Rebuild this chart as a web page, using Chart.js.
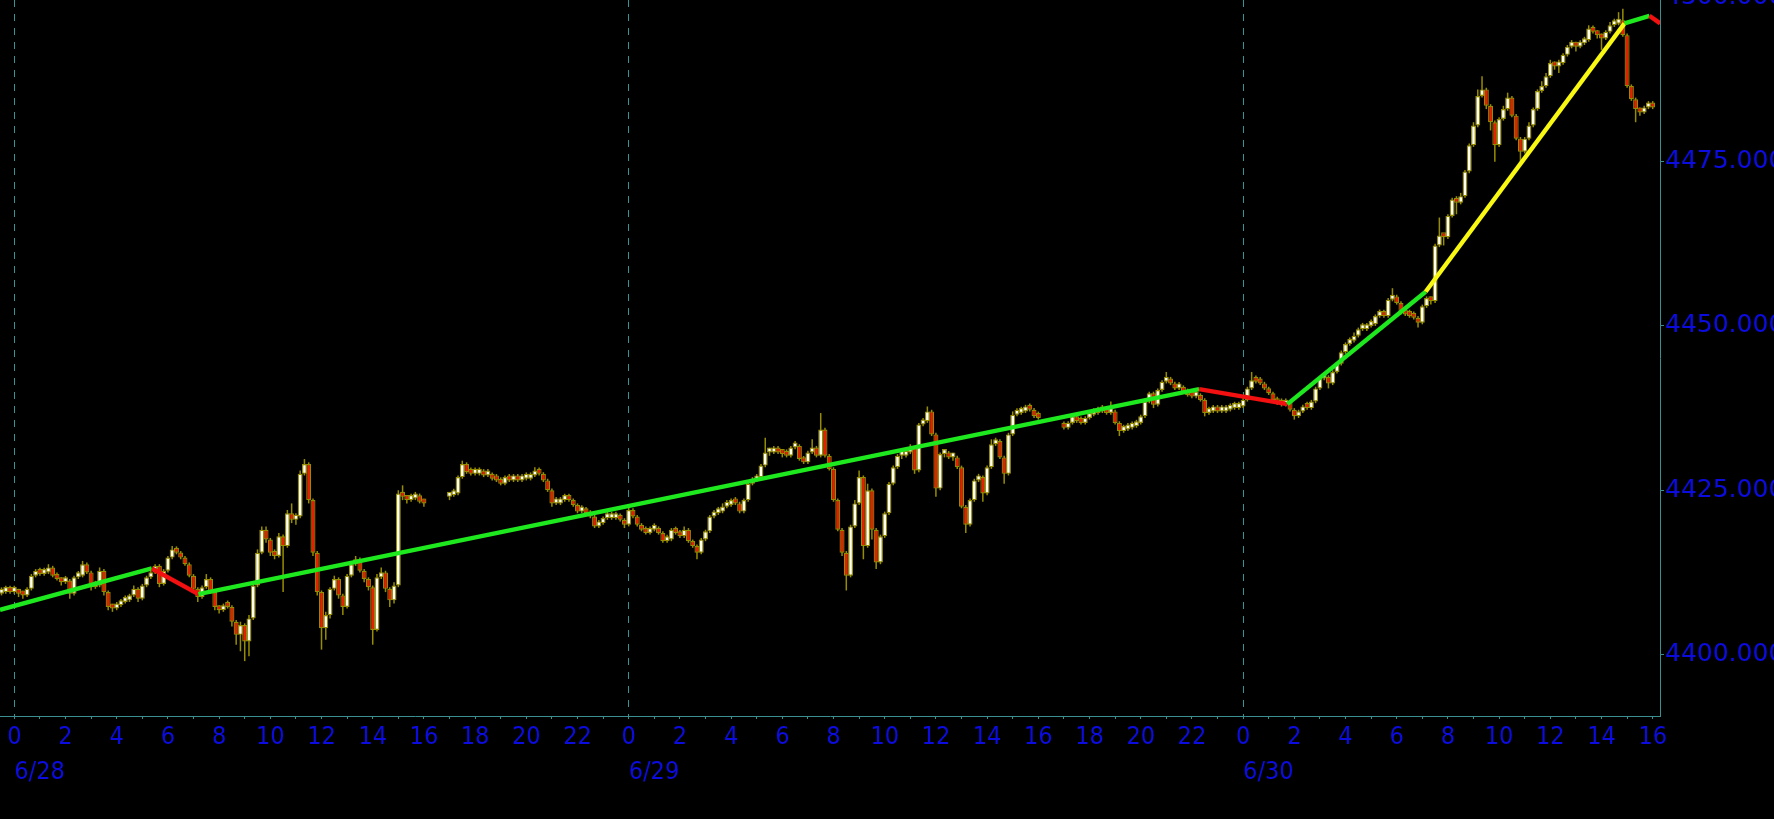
<!DOCTYPE html>
<html>
<head>
<meta charset="utf-8">
<script src="https://cdn.jsdelivr.net/npm/chart.js@4.4.1/dist/chart.umd.min.js"></script>
<style>
html,body{margin:0;padding:0;background:#000;overflow:hidden}
#wrap{position:absolute;left:0;top:0;width:1774px;height:819px;background:#000}
canvas{display:block}
</style>
</head>
<body>
<div id="wrap"><canvas id="c" width="1774" height="819"></canvas></div>
<script>
// ---------------- DATA ----------------
// Hours are counted from 6/28 00:00. 10-minute candles; each candle opens at the previous close.
const barMinutes = 10;
const sessionStartHours = [-0.5, 17, 41];
const sessionOpens = [4409.25, 4424.0, 4435.0];

// Session 1: 6/27 23:30 .. 6/28 16:00
const closesA = [
4409.5,4409.75,4409.5,4409.75,4409.25,4409.0,4410.0,4412.0,4412.5,4412.25,
4412.5,4413.25,4412.0,4411.5,4411.0,4411.25,4409.25,4411.75,4412.0,4413.75,
4412.5,4410.25,4410.5,4412.75,4409.5,4407.25,4407.0,4407.5,4408.0,4408.25,
4409.0,4410.0,4408.5,4410.5,4411.75,4412.5,4413.5,4410.75,4412.75,4414.75,
4416.0,4415.5,4414.75,4413.75,4412.0,4410.0,4408.75,4410.25,4411.5,4409.5,
4407.25,4406.75,4407.5,4407.25,4405.0,4403.0,4404.5,4402.0,4405.5,4410.5,
4415.5,4419.0,4417.5,4415.5,4415.0,4418.0,4416.5,4421.5,4420.5,4421.0,
4427.5,4429.0,4423.5,4415.5,4409.5,4404.0,4406.0,4410.0,4411.5,4409.0,
4407.25,4412.0,4413.75,4414.5,4412.75,4411.5,4410.25,4403.75,4411.75,4412.5,
4410.0,4408.25,4410.5,4424.5,4424.0,4423.5,4423.75,4424.25,4423.25,4423.0];
const highsA = [
4410.0,4410.0,4410.0,4410.25,4410.0,4409.5,4410.25,4412.25,4413.0,4412.75,
4413.0,4413.75,4413.5,4412.25,4411.75,4411.75,4411.5,4412.0,4412.5,4414.25,
4414.0,4412.75,4411.0,4413.25,4413.0,4409.75,4407.5,4408.0,4408.25,4408.75,
4409.25,4410.5,4410.25,4410.75,4412.0,4413.0,4413.75,4413.75,4413.0,4415.0,
4416.5,4416.25,4415.75,4415.0,4414.0,4412.25,4410.25,4410.5,4412.25,4411.75,
4409.75,4407.5,4407.75,4408.0,4407.5,4405.25,4405.0,4404.75,4406.0,4410.75,
4416.0,4419.5,4419.5,4417.75,4416.0,4418.5,4418.25,4422.0,4423.0,4421.5,
4428.0,4429.75,4429.25,4423.75,4415.75,4409.75,4406.5,4410.25,4412.0,4411.75,
4409.25,4412.25,4414.0,4415.0,4414.75,4413.0,4411.75,4410.5,4412.25,4413.25,
4412.75,4410.25,4411.0,4425.0,4425.75,4424.25,4424.25,4424.75,4424.5,4423.5];
const lowsA = [
4409.0,4409.25,4409.25,4409.25,4408.75,4408.5,4408.75,4409.75,4411.75,4412.0,
4412.0,4412.25,4411.75,4411.25,4410.5,4410.75,4408.5,4409.0,4411.5,4411.75,
4412.25,4409.75,4410.0,4410.25,4409.0,4406.75,4406.5,4406.75,4407.25,4407.75,
4408.0,4408.75,4408.0,4408.25,4410.25,4411.5,4412.25,4410.25,4410.5,4412.5,
4414.5,4415.25,4414.5,4413.5,4411.75,4409.75,4408.0,4408.5,4410.0,4409.25,
4406.75,4406.25,4406.5,4407.0,4404.25,4401.5,4400.5,4399.0,4399.75,4405.25,
4410.25,4415.25,4417.0,4415.0,4414.5,4414.75,4409.5,4416.25,4420.0,4419.75,
4420.75,4427.25,4423.0,4415.0,4409.0,4400.75,4402.25,4405.5,4409.75,4408.5,
4406.0,4407.0,4411.75,4413.5,4412.5,4411.0,4409.75,4401.5,4403.5,4411.5,
4409.5,4407.25,4407.75,4410.25,4423.5,4423.0,4423.25,4423.5,4423.0,4422.5];

// Session 2: 6/28 17:00 .. 6/29 16:00
const closesB = [
4424.25,4424.5,4427.0,4429.0,4427.75,4427.5,4427.5,4427.75,4427.25,4427.25,
4426.75,4426.5,4426.0,4427.0,4426.5,4426.75,4426.5,4426.75,4426.75,4427.25,
4428.0,4427.5,4426.5,4425.0,4423.0,4423.0,4423.5,4423.75,4423.5,4422.75,
4421.75,4422.0,4421.5,4421.0,4419.5,4420.0,4420.75,4420.75,4420.75,4421.0,
4420.5,4419.75,4422.0,4421.0,4419.75,4419.0,4418.5,4419.0,4419.25,4418.5,
4417.25,4417.5,4419.0,4418.5,4418.0,4419.0,4417.25,4416.5,4415.5,4417.5,
4418.75,4421.0,4421.5,4421.75,4422.5,4422.75,4423.25,4423.0,4421.75,4423.5,
4426.0,4426.5,4427.0,4428.75,4430.75,4430.75,4431.25,4430.75,4430.5,4430.25,
4431.5,4431.75,4429.75,4429.25,4430.75,4431.5,4430.25,4434.25,4430.25,4428.25,
4423.5,4419.0,4415.5,4412.0,4419.5,4423.0,4427.0,4416.5,4425.0,4419.0,
4414.0,4418.0,4421.5,4426.0,4428.5,4430.25,4430.25,4430.75,4431.5,4428.0,
4435.0,4435.5,4437.0,4433.5,4425.25,4430.5,4430.5,4430.0,4430.0,4428.5,
4422.5,4419.75,4423.5,4426.5,4427.0,4424.5,4428.5,4432.0,4432.5,4430.0,
4427.5,4433.5,4436.5,4436.75,4437.0,4437.5,4437.25,4436.25,4436.0];
const highsB = [
4424.5,4425.0,4427.25,4429.5,4429.25,4428.0,4428.0,4428.25,4428.0,4427.5,
4427.5,4427.0,4426.75,4427.25,4427.25,4427.0,4427.0,4427.0,4427.0,4427.5,
4428.5,4428.25,4427.75,4426.75,4425.25,4423.5,4423.75,4424.0,4424.0,4423.75,
4423.0,4422.5,4422.25,4421.75,4421.25,4420.25,4421.0,4421.25,4421.0,4421.25,
4421.25,4420.75,4422.5,4422.25,4421.25,4420.0,4419.25,4419.25,4419.75,4419.5,
4418.75,4417.75,4419.25,4419.25,4418.75,4419.5,4419.25,4417.5,4416.75,4417.75,
4419.0,4421.25,4422.0,4422.0,4423.0,4423.5,4423.75,4423.5,4423.25,4423.75,
4426.25,4427.0,4427.25,4429.0,4433.0,4431.25,4431.5,4431.5,4431.0,4430.75,
4431.75,4432.5,4432.0,4430.0,4431.0,4432.75,4431.75,4436.75,4434.5,4430.5,
4428.5,4423.75,4419.25,4415.75,4419.75,4423.5,4428.0,4427.25,4426.0,4425.25,
4419.25,4418.25,4421.75,4426.25,4428.75,4430.5,4430.75,4431.25,4432.0,4431.75,
4435.25,4436.0,4437.75,4437.25,4433.75,4430.75,4431.0,4430.75,4430.5,4430.25,
4428.75,4422.75,4423.75,4426.75,4427.5,4427.25,4428.75,4432.75,4433.0,4432.75,
4430.25,4433.75,4437.0,4437.25,4437.5,4438.0,4437.75,4437.5,4436.5];
const lowsB = [
4423.5,4424.0,4424.25,4426.75,4427.5,4427.25,4427.25,4427.25,4427.0,4427.0,
4426.5,4426.25,4425.75,4425.75,4426.25,4426.25,4426.25,4426.25,4426.5,4426.5,
4427.0,4427.25,4426.25,4424.75,4422.5,4422.75,4422.75,4423.25,4423.25,4422.5,
4421.5,4421.5,4421.25,4420.75,4419.25,4419.25,4419.75,4420.5,4420.5,4420.5,
4420.25,4419.25,4419.5,4420.75,4419.5,4418.75,4418.25,4418.25,4418.75,4418.25,
4417.0,4417.0,4417.25,4418.25,4417.75,4417.75,4417.0,4416.25,4414.5,4415.25,
4417.25,4418.5,4420.75,4421.25,4421.5,4422.25,4422.5,4422.75,4421.5,4421.5,
4423.25,4425.75,4426.25,4426.75,4428.5,4430.25,4430.5,4430.5,4430.0,4430.0,
4430.0,4431.25,4429.5,4429.0,4429.0,4430.5,4430.0,4430.0,4430.0,4428.0,
4423.25,4418.75,4415.0,4409.75,4411.75,4419.25,4422.75,4414.5,4416.25,4417.5,
4413.0,4413.75,4417.75,4421.25,4425.75,4428.25,4429.75,4430.0,4430.5,4427.5,
4427.75,4434.75,4435.25,4433.25,4424.0,4425.0,4430.0,4429.75,4429.5,4428.25,
4422.25,4418.5,4419.5,4423.25,4426.25,4423.25,4424.25,4428.25,4431.75,4429.75,
4426.0,4427.25,4433.25,4436.25,4436.5,4436.75,4437.0,4436.0,4435.75];

// Session 3: 6/29 17:00 .. 6/30 16:00
const closesC = [
4434.5,4435.25,4436.25,4435.5,4435.25,4436.0,4436.5,4436.75,4437.0,4437.0,
4436.75,4437.0,4435.25,4434.0,4434.25,4434.5,4434.75,4435.25,4436.25,4438.5,
4439.75,4438.0,4440.25,4441.5,4442.0,4441.25,4440.5,4440.5,4440.0,4439.5,
4439.25,4439.5,4438.75,4436.75,4437.0,4437.25,4437.0,4437.0,4437.25,4437.5,
4437.5,4437.75,4438.75,4440.5,4441.75,4441.5,4441.25,4440.5,4439.75,4438.75,
4438.25,4438.0,4438.5,4437.25,4436.25,4437.0,4437.75,4437.5,4438.5,4440.5,
4442.0,4442.25,4441.25,4443.0,4444.25,4446.0,4447.25,4447.75,4448.5,4449.5,
4449.5,4450.0,4450.25,4451.5,4452.0,4451.5,4454.0,4454.5,4453.5,4452.0,
4451.75,4451.5,4451.25,4450.5,4453.0,4454.25,4453.75,4462.25,4463.75,4463.5,
4466.75,4469.25,4468.75,4469.75,4473.5,4477.5,4480.5,4485.0,4486.0,4483.5,
4481.0,4477.5,4481.5,4483.0,4484.75,4482.0,4478.5,4476.5,4478.5,4480.5,
4483.0,4485.75,4486.5,4488.0,4490.0,4489.5,4490.0,4491.25,4492.5,4493.0,
4492.5,4493.0,4493.5,4495.25,4494.75,4494.25,4493.75,4494.75,4495.75,4496.0,
4496.5,4494.25,4486.5,4484.5,4483.0,4482.5,4483.25,4483.5,4483.25];
const highsC = [
4435.25,4435.5,4436.5,4436.5,4435.75,4436.25,4436.75,4437.0,4437.5,4437.25,
4437.25,4438.5,4437.25,4435.5,4434.5,4434.75,4435.0,4435.5,4436.5,4438.75,
4440.0,4440.0,4440.5,4441.75,4443.0,4442.25,4441.5,4440.75,4440.75,4440.25,
4439.75,4440.0,4439.75,4439.0,4437.25,4437.5,4437.5,4437.25,4437.5,4437.75,
4437.75,4438.0,4439.0,4440.75,4443.0,4442.0,4441.75,4441.5,4440.75,4440.0,
4439.0,4438.5,4438.75,4438.75,4437.5,4437.25,4438.0,4438.0,4438.75,4440.75,
4442.25,4442.5,4442.5,4443.25,4444.5,4446.25,4447.5,4448.25,4449.0,4449.75,
4450.0,4450.25,4451.0,4451.75,4452.5,4452.25,4454.25,4455.75,4454.75,4453.75,
4452.25,4452.0,4451.75,4451.5,4453.25,4454.5,4454.5,4462.5,4466.5,4464.0,
4467.0,4469.5,4469.75,4470.25,4473.75,4477.75,4481.0,4486.0,4488.0,4486.25,
4483.75,4481.25,4481.75,4483.5,4485.5,4485.0,4482.25,4478.75,4478.75,4481.0,
4483.25,4486.0,4487.25,4488.5,4490.5,4490.25,4490.5,4491.5,4492.75,4493.5,
4493.25,4493.25,4494.0,4495.75,4495.5,4495.0,4494.5,4495.0,4496.25,4496.75,
4497.75,4498.25,4494.5,4486.75,4484.75,4483.25,4483.5,4484.0,4483.75];
const lowsC = [
4434.25,4434.25,4435.0,4435.25,4435.0,4435.0,4435.75,4436.25,4436.5,4436.75,
4436.5,4436.5,4435.0,4433.25,4433.75,4434.0,4434.25,4434.5,4435.0,4436.0,
4438.25,4437.5,4437.75,4440.0,4441.25,4441.0,4440.25,4440.25,4439.75,4439.25,
4439.0,4439.0,4438.5,4436.25,4436.5,4436.75,4436.75,4436.75,4436.75,4437.0,
4437.25,4437.25,4437.5,4438.5,4440.25,4441.25,4441.0,4440.25,4439.5,4438.5,
4438.0,4437.75,4437.75,4437.0,4435.75,4436.0,4436.75,4437.25,4437.25,4438.25,
4440.25,4441.75,4440.5,4441.0,4442.75,4444.0,4445.75,4447.0,4447.5,4448.25,
4449.25,4449.25,4449.75,4450.0,4451.25,4451.25,4451.25,4453.75,4453.25,4451.75,
4451.5,4451.25,4451.0,4449.75,4450.25,4452.75,4453.25,4453.5,4462.0,4462.25,
4463.25,4466.5,4467.0,4468.5,4469.5,4473.25,4477.25,4480.25,4484.75,4483.0,
4479.75,4475.0,4477.25,4481.25,4482.75,4481.75,4478.25,4475.0,4476.25,4478.25,
4480.25,4482.75,4485.5,4486.25,4487.75,4489.0,4488.5,4489.75,4491.0,4492.25,
4491.75,4492.25,4492.75,4493.25,4494.5,4493.75,4492.0,4493.5,4494.5,4495.5,
4495.75,4494.0,4486.25,4484.25,4481.0,4482.0,4482.25,4483.0,4483.0];

// Zigzag swing line (pivot hours / pivot prices)
const zigzagHours  = [-0.56, 5.37, 7.19, 46.28, 49.73, 55.13, 62.9, 63.87, 64.29];
const zigzagValues = [4406.8, 4413.1, 4409.2, 4440.4, 4438.1, 4455.2, 4496.05, 4497.2, 4496.05];

// Axis ticks / labels
const hourTickLabels = ['0','2','4','6','8','10','12','14','16','18','20','22',
                        '0','2','4','6','8','10','12','14','16','18','20','22',
                        '0','2','4','6','8','10','12','14','16'];
const dayTickHours = [0, 24, 48];
const dayLabels = ['6/28', '6/29', '6/30'];
const priceTicks = [4400, 4425, 4450, 4475, 4500];

// ---------------- STYLE ----------------
const X_MIN = -0.559, X_MAX = 64.285;
const Y_MIN = 4390.65, Y_MAX = 4499.6;
const AXIS = '#3a9090';
const GRID = '#359595';
const LABEL = '#0c0ce0';
const UP = '#ffffea';
const DOWN = '#e42000';
const EDGE = '#968c00';
const GREEN = '#1ee81e', RED = '#f21010', YELLOW = '#f8f812';
const zigzagSegmentColors = [GREEN, RED, GREEN, RED, GREEN, YELLOW, GREEN, RED];
const X_FONT = {family: "'DejaVu Sans Condensed', 'DejaVu Sans', sans-serif", size: 25};
const Y_FONT = {family: "'DejaVu Sans', sans-serif", size: 25};

// ---------------- BUILD ----------------
const sessions = [
  {closes: closesA, highs: highsA, lows: lowsA},
  {closes: closesB, highs: highsB, lows: lowsB},
  {closes: closesC, highs: highsC, lows: lowsC}
];
const wickData = [], bodyData = [], bodyColors = [];
sessions.forEach((s, si) => {
  let prev = sessionOpens[si];
  s.closes.forEach((c, i) => {
    const x = sessionStartHours[si] + i * barMinutes / 60;
    wickData.push({x: x, y: [s.lows[i], s.highs[i]]});
    bodyData.push({x: x, y: [prev, c]});
    bodyColors.push(c >= prev ? UP : DOWN);
    prev = c;
  });
});
const zigzagData = zigzagHours.map((h, i) => ({x: h, y: zigzagValues[i]}));
const hourTicks = [];
for (let h = 0; h <= 64; h++) hourTicks.push(h);

function zeroPad(s) { s.paddingLeft = 0; s.paddingRight = 0; s.paddingTop = 0; s.paddingBottom = 0; }

new Chart(document.getElementById('c'), {
  type: 'line',
  data: {
    datasets: [
      {
        type: 'line', order: 0, data: zigzagData,
        borderWidth: 4.4, pointRadius: 0, tension: 0, fill: false,
        borderColor: GREEN,
        segment: { borderColor: ctx => zigzagSegmentColors[ctx.p0DataIndex] }
      },
      {
        type: 'bar', order: 1, data: bodyData, grouped: false,
        barThickness: 5, maxBarThickness: 5, minBarLength: 5,
        backgroundColor: bodyColors, borderColor: EDGE, borderWidth: 1.2,
        borderSkipped: false, inflateAmount: 0
      },
      {
        type: 'bar', order: 2, data: wickData, grouped: false,
        barThickness: 1.5, maxBarThickness: 1.5, minBarLength: 8,
        backgroundColor: EDGE, borderWidth: 0, inflateAmount: 0
      }
    ]
  },
  options: {
    responsive: false, animation: false, devicePixelRatio: 1, events: [],
    layout: { padding: 0 },
    plugins: { legend: { display: false }, tooltip: { enabled: false } },
    scales: {
      x: {
        type: 'linear', position: 'bottom', weight: 0, min: X_MIN, max: X_MAX, offset: false,
        afterBuildTicks: s => { s.ticks = hourTicks.map(v => ({value: v})); },
        afterFit: s => { s.height = 40; zeroPad(s); },
        grid: {
          offset: false, drawOnChartArea: true, lineWidth: 1,
          color: ctx => (ctx.tick && ctx.tick.value % 24 === 0) ? GRID : 'rgba(0,0,0,0)',
          drawTicks: true, tickLength: 3, tickColor: AXIS, tickWidth: 1
        },
        border: { display: true, color: AXIS, width: 1, dash: [7, 7] },
        ticks: {
          autoSkip: false, maxRotation: 0, minRotation: 0, padding: 3, color: LABEL, font: X_FONT,
          callback: v => (v % 2 === 0) ? hourTickLabels[v / 2] : ''
        }
      },
      x2: {
        type: 'linear', position: 'bottom', weight: 1, min: X_MIN, max: X_MAX, offset: false,
        afterBuildTicks: s => { s.ticks = dayTickHours.map(v => ({value: v})); },
        afterFit: s => { s.height = 63; zeroPad(s); },
        grid: { display: false, drawTicks: false, drawOnChartArea: false },
        border: { display: false },
        ticks: {
          align: 'start', autoSkip: false, maxRotation: 0, minRotation: 0, padding: 1,
          color: LABEL, font: X_FONT,
          callback: (v, i) => dayLabels[i]
        }
      },
      y: {
        type: 'linear', position: 'right', min: Y_MIN, max: Y_MAX,
        afterBuildTicks: s => { s.ticks = priceTicks.map(v => ({value: v})); },
        afterFit: s => { s.width = 114; zeroPad(s); },
        grid: { drawOnChartArea: false, drawTicks: true, tickLength: 4, tickColor: AXIS },
        border: { display: true, color: AXIS, width: 1 },
        ticks: { padding: 1, color: LABEL, font: Y_FONT, callback: v => Number(v).toFixed(3) }
      }
    }
  }
});
</script>
</body>
</html>
